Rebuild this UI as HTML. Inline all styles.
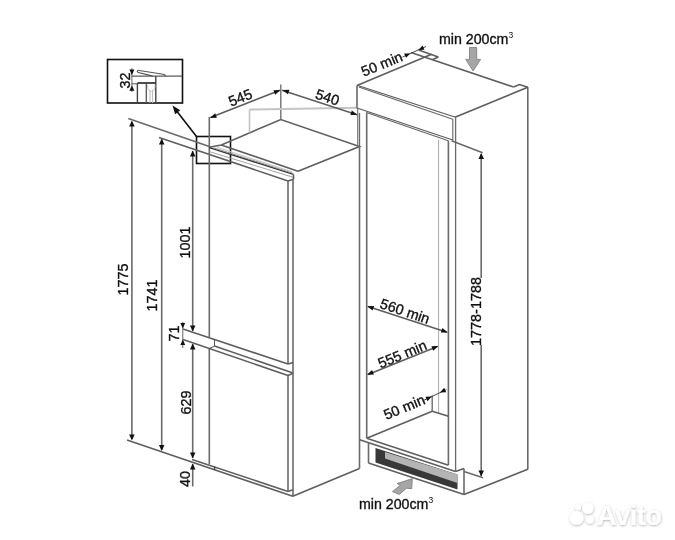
<!DOCTYPE html>
<html><head><meta charset="utf-8"><style>
html,body{margin:0;padding:0;background:#fff;}
body{width:675px;height:540px;position:relative;overflow:hidden;font-family:"Liberation Sans",sans-serif;}
svg.main{position:absolute;left:0;top:0;filter:grayscale(1);}
svg text{font-family:"Liberation Sans",sans-serif;}
</style></head><body>
<svg class="main" width="675" height="540" viewBox="0 0 675 540">
<defs><filter id="sh" x="-30%" y="-30%" width="160%" height="160%"><feDropShadow dx="0.3" dy="0.8" stdDeviation="1.3" flood-color="#000" flood-opacity="0.32"/></filter></defs>
<g>
<rect x="107.5" y="59.5" width="75" height="43.5" fill="none" stroke="#111" stroke-width="1.6"/>
<line x1="131.5" y1="76.2" x2="182" y2="76.2" stroke="#5a5a5a" stroke-width="1.3"/>
<line x1="131.5" y1="83.8" x2="137.5" y2="83.8" stroke="#666" stroke-width="1.1"/>
<line x1="155.8" y1="76" x2="155.8" y2="103" stroke="#444" stroke-width="1.4"/>
<polyline points="137.6,70.3 163,74.3 165.3,75.2 165.3,76.2" fill="none" stroke="#555" stroke-width="1.1" stroke-linejoin="miter"/>
<polyline points="137.6,70.3 137.2,71.6 138.3,72.6 150,75.4 153,76.2" fill="none" stroke="#555" stroke-width="1.1" stroke-linejoin="miter"/>
<line x1="137.4" y1="83" x2="137.4" y2="103" stroke="#444" stroke-width="1.4"/>
<line x1="146.3" y1="83.5" x2="146.3" y2="103" stroke="#555" stroke-width="1.3"/>
<line x1="137.4" y1="83" x2="156" y2="83" stroke="#3a3a3a" stroke-width="1.8"/>
<path d="M147.5 85 Q147.5 91 151.2 91.5 Q155 91 155 85" fill="none" stroke="#c8c8c8" stroke-width="1"/>
<line x1="150" y1="90" x2="150" y2="103" stroke="#bbb" stroke-width="1"/>
<line x1="152.6" y1="90" x2="152.6" y2="103" stroke="#bbb" stroke-width="1"/>
<line x1="131.9" y1="68" x2="131.9" y2="92" stroke="#666" stroke-width="1"/>
<polygon points="131.9,75 129.4,69.6 134.4,69.6" fill="#111"/>
<polygon points="131.9,85.4 134.4,90.8 129.4,90.8" fill="#111"/>
<text transform="translate(124.5 80.5) rotate(-90)" x="0" y="5.16" font-size="14.4" text-anchor="middle" fill="#111" stroke="#111" stroke-width="0.35">32</text>
<line x1="196.5" y1="136.5" x2="175.5" y2="109.5" stroke="#111" stroke-width="1.6"/>
<polygon points="172.5,105.5 180.27,110.23 175.13,114.21" fill="#111"/>
<rect x="196.5" y="136.5" width="34" height="27" fill="none" stroke="#111" stroke-width="1.6"/>
<line x1="131.9" y1="122" x2="131.9" y2="439" stroke="#6a6a6a" stroke-width="1.6"/>
<polygon points="131.9,120.6 134.65,126.6 129.15,126.6" fill="#111"/>
<polygon points="131.9,440.5 129.15,434.5 134.65,434.5" fill="#111"/>
<line x1="128.3" y1="118.6" x2="209.3" y2="146.5" stroke="#6a6a6a" stroke-width="1.6"/>
<text transform="translate(123 279.5) rotate(-90)" x="0" y="5.16" font-size="14.4" text-anchor="middle" fill="#111" stroke="#111" stroke-width="0.35">1775</text>
<line x1="161.7" y1="139" x2="161.7" y2="450" stroke="#6a6a6a" stroke-width="1.6"/>
<polygon points="161.7,138.5 164.45,144.5 158.95,144.5" fill="#111"/>
<polygon points="161.7,451 158.95,445 164.45,445" fill="#111"/>
<line x1="159" y1="137.4" x2="288" y2="181" stroke="#5e5e5e" stroke-width="1.6"/>
<text transform="translate(152 295.5) rotate(-90)" x="0" y="5.16" font-size="14.4" text-anchor="middle" fill="#111" stroke="#111" stroke-width="0.35">1741</text>
<line x1="192.7" y1="151" x2="192.7" y2="331" stroke="#6a6a6a" stroke-width="1.6"/>
<polygon points="192.7,150.5 195.45,156.5 189.95,156.5" fill="#111"/>
<polygon points="192.7,331.5 189.95,325.5 195.45,325.5" fill="#111"/>
<text transform="translate(184.7 242.5) rotate(-90)" x="0" y="5.16" font-size="14.4" text-anchor="middle" fill="#111" stroke="#111" stroke-width="0.35">1001</text>
<line x1="192.7" y1="344" x2="192.7" y2="458" stroke="#6a6a6a" stroke-width="1.6"/>
<polygon points="192.7,343.5 195.45,349.5 189.95,349.5" fill="#111"/>
<polygon points="192.7,458.5 189.95,452.5 195.45,452.5" fill="#111"/>
<text transform="translate(185.4 402.5) rotate(-90)" x="0" y="5.16" font-size="14.4" text-anchor="middle" fill="#111" stroke="#111" stroke-width="0.35">629</text>
<line x1="192.7" y1="464" x2="192.7" y2="486.5" stroke="#6a6a6a" stroke-width="1.6"/>
<polygon points="192.7,463.4 195.45,469.4 189.95,469.4" fill="#111"/>
<text transform="translate(184.8 479) rotate(-90)" x="0" y="5.16" font-size="14.4" text-anchor="middle" fill="#111" stroke="#111" stroke-width="0.35">40</text>
<line x1="182.8" y1="322" x2="182.8" y2="348" stroke="#555" stroke-width="0.9"/>
<polygon points="182.8,328.5 180.4,322.9 185.2,322.9" fill="#111"/>
<polygon points="182.8,339.5 185.2,345.1 180.4,345.1" fill="#111"/>
<text transform="translate(174 333.5) rotate(-90)" x="0" y="5.16" font-size="14.4" text-anchor="middle" fill="#111" stroke="#111" stroke-width="0.35">71</text>
<line x1="127" y1="439.9" x2="292.8" y2="496.3" stroke="#5e5e5e" stroke-width="1.6"/>
<line x1="192" y1="459.4" x2="288" y2="491.4" stroke="#5e5e5e" stroke-width="1.6"/>
<line x1="288" y1="491.4" x2="292.8" y2="489.8" stroke="#5e5e5e" stroke-width="1.6"/>
<line x1="214.6" y1="466.6" x2="214.6" y2="469.8" stroke="#444" stroke-width="1.3"/>
<line x1="209.3" y1="117" x2="209.3" y2="337.5" stroke="#6a6a6a" stroke-width="1.6"/>
<line x1="209.3" y1="348.5" x2="209.3" y2="464.4" stroke="#6a6a6a" stroke-width="1.6"/>
<polyline points="209.3,147.3 221.3,145 280.8,119.5 359.5,146.5 298,171.3" fill="none" stroke="#5e5e5e" stroke-width="1.6" stroke-linejoin="miter"/>
<line x1="221.3" y1="145" x2="298" y2="171.3" stroke="#5e5e5e" stroke-width="1.6"/>
<line x1="280.8" y1="84.5" x2="280.8" y2="119.5" stroke="#707070" stroke-width="1.4"/>
<line x1="209.3" y1="147.6" x2="293.5" y2="174.4" stroke="#333" stroke-width="1.4"/>
<line x1="214" y1="148" x2="292.5" y2="173.1" stroke="#8c8c8c" stroke-width="1"/>
<line x1="217" y1="147.3" x2="292" y2="171.9" stroke="#c8c8c8" stroke-width="1.2"/>
<line x1="209.3" y1="151.6" x2="293.5" y2="177.4" stroke="#9a9a9a" stroke-width="0.9"/>
<line x1="293.5" y1="174.4" x2="293.5" y2="179.2" stroke="#5e5e5e" stroke-width="1.6"/>
<line x1="288" y1="181" x2="293.5" y2="179.2" stroke="#5e5e5e" stroke-width="1.6"/>
<line x1="288" y1="181" x2="288" y2="364" stroke="#6a6a6a" stroke-width="1.6"/>
<line x1="288" y1="375.5" x2="288" y2="491.4" stroke="#6a6a6a" stroke-width="1.6"/>
<line x1="293" y1="179" x2="293" y2="496" stroke="#6a6a6a" stroke-width="1.6"/>
<line x1="183" y1="329" x2="288" y2="364" stroke="#5e5e5e" stroke-width="1.6"/>
<line x1="288" y1="364" x2="293" y2="362.5" stroke="#5e5e5e" stroke-width="1.6"/>
<line x1="214.5" y1="346" x2="293" y2="373" stroke="#5e5e5e" stroke-width="1.6"/>
<line x1="183" y1="339.5" x2="288" y2="375.5" stroke="#5e5e5e" stroke-width="1.6"/>
<line x1="288" y1="375.5" x2="293" y2="373.3" stroke="#5e5e5e" stroke-width="1.6"/>
<line x1="214.5" y1="339.5" x2="214.5" y2="346.2" stroke="#444" stroke-width="0.9"/>
<line x1="209.3" y1="348.5" x2="214.5" y2="346.2" stroke="#444" stroke-width="0.9"/>
<line x1="359.5" y1="146.5" x2="359.5" y2="468.5" stroke="#6a6a6a" stroke-width="1.6"/>
<line x1="292.8" y1="496.2" x2="359.5" y2="468.5" stroke="#5e5e5e" stroke-width="1.6"/>
<line x1="249.5" y1="109.5" x2="249.5" y2="132.5" stroke="#c4c4c4" stroke-width="1.6"/>
<line x1="249.5" y1="109.5" x2="357" y2="107.8" stroke="#c4c4c4" stroke-width="2"/>
<line x1="210.5" y1="117.6" x2="280" y2="90.2" stroke="#5e5e5e" stroke-width="1.6"/>
<polygon points="210,118 215.14,113.36 216.93,117.81" fill="#111"/>
<polygon points="280.3,90 275.15,94.63 273.37,90.17" fill="#111"/>
<line x1="282" y1="90.2" x2="357" y2="114.8" stroke="#5e5e5e" stroke-width="1.6"/>
<polygon points="282.5,90 289.43,89.78 287.91,94.33" fill="#111"/>
<polygon points="357.3,114.8 350.38,115.1 351.84,110.53" fill="#111"/>
<text transform="translate(240.3 97.5) rotate(-22)" x="0" y="5.16" font-size="14.4" text-anchor="middle" fill="#111" stroke="#111" stroke-width="0.35">545</text>
<text transform="translate(327.5 97) rotate(18.3)" x="0" y="5.16" font-size="14.4" text-anchor="middle" fill="#111" stroke="#111" stroke-width="0.35">540</text>
<line x1="357" y1="85.5" x2="431.6" y2="54.3" stroke="#5e5e5e" stroke-width="1.6"/>
<line x1="411" y1="52.4" x2="513.5" y2="87" stroke="#5e5e5e" stroke-width="1.6"/>
<line x1="418.6" y1="49.9" x2="438.3" y2="57.1" stroke="#5e5e5e" stroke-width="1.6"/>
<line x1="432.7" y1="59.6" x2="438.3" y2="57.1" stroke="#5e5e5e" stroke-width="1.6"/>
<polyline points="513.5,87 519.5,84.5 527.8,87.2" fill="none" stroke="#5e5e5e" stroke-width="1.6" stroke-linejoin="miter"/>
<line x1="527.8" y1="87" x2="527.8" y2="469.5" stroke="#6a6a6a" stroke-width="1.6"/>
<line x1="527.8" y1="87.2" x2="455" y2="117.3" stroke="#5e5e5e" stroke-width="1.6"/>
<line x1="357" y1="85.3" x2="455.5" y2="117.2" stroke="#5a5a5a" stroke-width="1.2"/>
<line x1="358.8" y1="86.9" x2="452.8" y2="119.2" stroke="#666" stroke-width="1.1"/>
<line x1="357" y1="85.5" x2="357" y2="108.3" stroke="#6a6a6a" stroke-width="1.6"/>
<line x1="452.8" y1="119" x2="452.8" y2="140.5" stroke="#707070" stroke-width="1.2"/>
<line x1="455.6" y1="117.3" x2="455.6" y2="471.5" stroke="#6a6a6a" stroke-width="1.3"/>
<line x1="357" y1="108" x2="452.8" y2="140" stroke="#5a5a5a" stroke-width="1.2"/>
<line x1="366.5" y1="112.5" x2="448.3" y2="140.8" stroke="#666" stroke-width="1.1"/>
<line x1="357.7" y1="108" x2="357.7" y2="146.5" stroke="#777" stroke-width="1.2"/>
<line x1="359.5" y1="113" x2="359.5" y2="146.5" stroke="#6a6a6a" stroke-width="1.3"/>
<line x1="366.7" y1="112.6" x2="366.7" y2="438.3" stroke="#6a6a6a" stroke-width="1.6"/>
<line x1="448.4" y1="140.8" x2="448.4" y2="465" stroke="#6a6a6a" stroke-width="1.6"/>
<line x1="438.6" y1="139.5" x2="438.6" y2="412.8" stroke="#aaa" stroke-width="1"/>
<line x1="432.2" y1="395.5" x2="432.2" y2="411.2" stroke="#707070" stroke-width="1.4"/>
<line x1="402.5" y1="57" x2="426" y2="46.5" stroke="#333" stroke-width="0.9"/>
<polygon points="410.2,53.4 406.06,57.87 404.11,53.48" fill="#111"/>
<polygon points="418.4,49.9 422.56,45.45 424.49,49.84" fill="#111"/>
<text transform="translate(381.8 63.8) rotate(-22.5)" x="0" y="5.16" font-size="14.4" text-anchor="middle" fill="#111" stroke="#111" stroke-width="0.35">50 min</text>
<line x1="451.5" y1="140.7" x2="482.6" y2="152.8" stroke="#6a6a6a" stroke-width="1.6"/>
<line x1="481.2" y1="154" x2="481.2" y2="278" stroke="#6a6a6a" stroke-width="1.6"/>
<line x1="481.2" y1="345" x2="481.2" y2="476" stroke="#6a6a6a" stroke-width="1.6"/>
<polygon points="481.2,153 483.95,159 478.45,159" fill="#111"/>
<polygon points="481.2,476.5 478.45,470.5 483.95,470.5" fill="#111"/>
<line x1="464" y1="471.5" x2="483" y2="477.8" stroke="#6a6a6a" stroke-width="1.6"/>
<text transform="translate(476.2 311.5) rotate(-90)" x="0" y="5.16" font-size="14.4" text-anchor="middle" fill="#111" stroke="#111" stroke-width="0.35">1778-1788</text>
<line x1="368" y1="306.5" x2="447" y2="332.2" stroke="#5e5e5e" stroke-width="1.6"/>
<polygon points="367.2,306.2 374.13,306 372.59,310.55" fill="#111"/>
<polygon points="447.8,332.4 440.87,332.62 442.39,328.07" fill="#111"/>
<text transform="translate(405 311) rotate(18.6)" x="0" y="5.16" font-size="14.4" text-anchor="middle" fill="#111" stroke="#111" stroke-width="0.35">560 min</text>
<line x1="368" y1="374.4" x2="437.5" y2="346.5" stroke="#5e5e5e" stroke-width="1.6"/>
<polygon points="367,374.8 372.09,370.1 373.92,374.54" fill="#111"/>
<polygon points="438.3,346 433.21,350.7 431.38,346.26" fill="#111"/>
<text transform="translate(402.2 354) rotate(-22.4)" x="0" y="5.16" font-size="14.4" text-anchor="middle" fill="#111" stroke="#111" stroke-width="0.35">555 min</text>
<line x1="366.7" y1="438.3" x2="432.2" y2="411.2" stroke="#5e5e5e" stroke-width="1.6"/>
<line x1="432.2" y1="411.2" x2="448.5" y2="416.3" stroke="#5e5e5e" stroke-width="1.6"/>
<line x1="366.7" y1="438.3" x2="448.5" y2="465.3" stroke="#5e5e5e" stroke-width="1.6"/>
<line x1="359.7" y1="439.7" x2="455.5" y2="471.5" stroke="#5e5e5e" stroke-width="1.6"/>
<line x1="455.5" y1="471.5" x2="464" y2="468.6" stroke="#5e5e5e" stroke-width="1.6"/>
<line x1="424" y1="400.2" x2="446.5" y2="389.6" stroke="#333" stroke-width="0.9"/>
<polygon points="431.8,396.6 427.46,401.14 425.52,396.75" fill="#111"/>
<polygon points="439.9,392.4 444.17,387.8 446.17,392.16" fill="#111"/>
<text transform="translate(404.2 407) rotate(-22.5)" x="0" y="5.16" font-size="14.4" text-anchor="middle" fill="#111" stroke="#111" stroke-width="0.35">50 min</text>
<line x1="368.5" y1="442.6" x2="368.5" y2="463" stroke="#6a6a6a" stroke-width="1.6"/>
<line x1="368.5" y1="463" x2="464" y2="494.6" stroke="#5e5e5e" stroke-width="1.6"/>
<line x1="464" y1="468.6" x2="464" y2="494.6" stroke="#6a6a6a" stroke-width="1.6"/>
<line x1="464" y1="494.6" x2="527.8" y2="469.3" stroke="#5e5e5e" stroke-width="1.6"/>
<polygon points="375.5,448 457.5,474.5 457.5,489.5 375.5,462.5" fill="#383838"/>
<polygon points="385,452 457.5,474.5 457.5,483 385,458.5" fill="#b4b4b4"/>
<polygon points="469.5,47.5 476.7,47.5 476.7,59.4 480.6,59.4 473.1,70.9 465.7,59.4 469.5,59.4" fill="#a6a6a6" stroke="#808080" stroke-width="0.9"/>
<polygon points="412.3,478.7 411.7,488.7 406.5,488.2 399.3,494.4 392.5,491.6 400.5,485 397,483.6" fill="#a6a6a6" stroke="#808080" stroke-width="0.9"/>
<text x="439" y="43.7" font-size="14.2" fill="#111" stroke="#111" stroke-width="0.35">min 200cm<tspan font-size="8.5" dy="-6" stroke-width="0">3</tspan></text>
<text x="359" y="509" font-size="14.2" fill="#111" stroke="#111" stroke-width="0.35">min 200cm<tspan font-size="8.5" dy="-6" stroke-width="0">3</tspan></text>
<g filter="url(#sh)" fill="#fff"><circle cx="578" cy="507.5" r="3"/><circle cx="588" cy="508.3" r="5.6"/><circle cx="576.5" cy="518" r="7"/><circle cx="590" cy="519.6" r="4.2"/><text x="596.8" y="525.3" font-size="27.5" font-weight="bold" letter-spacing="-0.6">Avito</text></g>
</g>
</svg>

</body></html>
